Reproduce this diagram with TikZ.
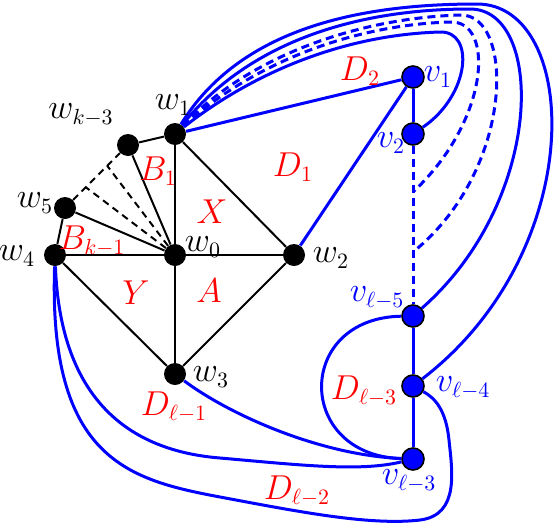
\documentclass[tikz,border=0pt]{standalone}
\usepackage{tikz}
\usetikzlibrary{calc}

\begin{document}
\begin{tikzpicture}[
  x=0.5pt, y=-0.5pt,
  wnode/.style={circle, fill=black, inner sep=0pt, minimum size=11pt},
  vnode/.style={circle, draw=black, fill=blue, line width=0.8pt, inner sep=0pt, minimum size=11pt},
  wline/.style={line width=1pt, black},
  vline/.style={line width=1.5pt, blue},
  wdash/.style={dash pattern=on 3.5pt off 2.5pt},
  bdash/.style={dash pattern=on 4pt off 2.5pt},
  lab/.style={font=\fontsize{16}{19}\selectfont, inner sep=0pt},
  rlab/.style={lab, red},
  blab/.style={lab, blue}
]
\useasboundingbox (0,0) rectangle (556,525);

% wheel around w0
\node[wnode] (w0) at (175,255) {};
\node[wnode] (w1) at (175,134) {};
\node[wnode] (w2) at (294,255) {};
\node[wnode] (w3) at (175,374) {};
\node[wnode] (w4) at (55,255) {};
\node[wnode] (w5) at (65,208) {};
\node[wnode] (wk) at (128,145) {};

% path v_1 ... v_{l-3}
\node[vnode] (v1) at (413,77) {};
\node[vnode] (v2) at (413,134) {};
\node[vnode] (vl5) at (413,316) {};
\node[vnode] (vl4) at (413,386) {};
\node[vnode] (vl3) at (413,459) {};

\coordinate (p1) at (413,192);
\coordinate (p2) at (413,252);
\coordinate (s1) at ($(w5)!0.33!(wk)$);
\coordinate (s2) at ($(w5)!0.67!(wk)$);

% black edges
\foreach \a/\b in {w1/w0, w1/w2, w0/w2, w2/w3, w0/w3, w3/w4, w4/w0, w4/w5, w5/w0, wk/w0, wk/w1}
  \draw[wline] (\a) -- (\b);
\draw[wline, wdash] (w5) -- (wk);
\draw[wline, wdash] (w0) -- (s1);
\draw[wline, wdash] (w0) -- (s2);

% blue edges
\draw[vline] (w1) -- (v1);
\draw[vline] (w2) -- (v1);
\draw[vline] (v1) -- (v2);
\draw[vline, bdash] (v2) -- (vl5);
\draw[vline] (vl5) -- (vl4) -- (vl3);

\draw[vline] (w1) .. controls (250,75) and (340,35) .. (440,32)
  .. controls (475,31) and (470,95) .. (v2);
\draw[vline, bdash] (w1) .. controls (250,65) and (350,25) .. (450,22)
  .. controls (495,20) and (490,120) .. (p1);
\draw[vline, bdash] (w1) .. controls (250,55) and (360,18) .. (460,15)
  .. controls (515,13) and (515,170) .. (p2);
\draw[vline] (w1) .. controls (250,40) and (360,9) .. (470,9)
  .. controls (545,9) and (545,200) .. (vl5);
\draw[vline] (w1) .. controls (240,28) and (360,4) .. (477,4)
  .. controls (580,4) and (590,250) .. (vl4);

\draw[vline] (w3) .. controls (230,415) and (320,455) .. (vl3);
\draw[vline] (vl5) .. controls (295,318) and (295,455) .. (vl3);
\draw[vline] (w4) .. controls (60,390) and (120,450) .. (220,458)
  .. controls (300,465) and (360,472) .. (vl3);
\draw[vline] (w4) .. controls (48,460) and (130,480) .. (220,497)
  .. controls (295,511) and (370,526) .. (420,520)
  .. controls (460,515) and (452,470) .. (449,440)
  .. controls (446,410) and (435,398) .. (vl4);

% labels
\node[lab] (lw0) at (203,247) {$w_0$};
\node[lab] (lw1) at (173,105) {$w_1$};
\node[lab] (lw2) at (331,258) {$w_2$};
\node[lab] (lw3) at (211,377) {$w_3$};
\node[lab] (lw4) at (17,256) {$w_4$};
\node[lab] (lw5) at (35,203) {$w_5$};
\node[lab] (lwk) at (81,115) {$w_{k-3}$};

\node[blab] (lv1) at (438,77) {$v_1$};
\node[blab] (lv2) at (391,143) {$v_2$};
\node[blab] (lvl5) at (377,298) {$v_{\ell-5}$};
\node[blab] (lvl4) at (463,388) {$v_{\ell-4}$};
\node[blab] (lvl3) at (409,481) {$v_{\ell-3}$};

\node[rlab] (lB1) at (158,171) {$B_1$};
\node[rlab] (lBk) at (92,241) {$B_{k-1}$};
\node[rlab] (lX) at (212,212) {$X$};
\node[rlab] (lY) at (136,293) {$Y$};
\node[rlab] (lA) at (209,291) {$A$};
\node[rlab] (lD1) at (293,167) {$D_1$};
\node[rlab] (lD2) at (360,71) {$D_2$};
\node[rlab] (lDl1) at (174,407) {$D_{\ell-1}$};
\node[rlab] (lDl2) at (297,491) {$D_{\ell-2}$};
\node[rlab] (lDl3) at (364,391) {$D_{\ell-3}$};
\end{tikzpicture}
\end{document}
